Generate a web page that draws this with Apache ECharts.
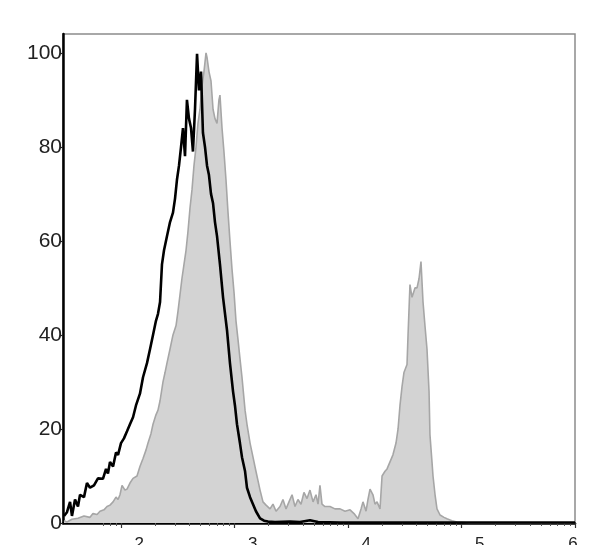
<!DOCTYPE html>
<html>
<head>
<meta charset="utf-8">
<script src="https://cdn.jsdelivr.net/npm/echarts@6/dist/echarts.min.js"></script>
<style>
html,body{margin:0;padding:0;background:#fff;}
#chart{width:608px;height:545px;}
</style>
</head>
<body>
<div id="chart"></div>
<script>
// x values are log10 of fluorescence intensity (decades)
const isoX = [1.498,1.524,1.551,1.568,1.595,1.621,1.639,1.674,1.700,1.727,1.762,1.797,1.841,1.868,1.885,1.903,1.930,1.956,1.974,2.000,2.026,2.053,2.079,2.106,2.132,2.167,2.194,2.229,2.256,2.282,2.308,2.326,2.344,2.361,2.379,2.405,2.432,2.458,2.476,2.493,2.511,2.529,2.546,2.564,2.581,2.599,2.617,2.634,2.652,2.670,2.687,2.705,2.722,2.740,2.758,2.775,2.793,2.811,2.828,2.846,2.872,2.899,2.934,2.960,2.987,3.004,3.022,3.048,3.066,3.093,3.110,3.137,3.163,3.189,3.225,3.260,3.295,3.357,3.489,3.577,3.665,3.736,3.930,4.458,6.000];
const isoY = [1.5,2.3,4.5,1.5,5,3.5,6,5.5,8.5,7.5,8,9.5,9.4,11.5,10.5,13,12,15,14.5,17,18,19.5,21,22.5,25,27.5,31,34,37,40,43,44.5,47,55,58,61,64,66,69,73,76,80,84,78,90,86,84,79,88,99.8,92,96,83,80,76,74,70,68,64,61,55,48,41,34,28,25,21,17,14,11,7.5,5.5,4,2.5,1,0.5,0.3,0.2,0.3,0.2,0.6,0.2,0.1,0.1,0.1];

const stainX = [1.498,1.524,1.568,1.621,1.674,1.727,1.753,1.789,1.815,1.850,1.877,1.903,1.930,1.956,1.974,1.991,2.009,2.035,2.053,2.079,2.106,2.141,2.167,2.194,2.220,2.238,2.264,2.282,2.308,2.326,2.344,2.370,2.388,2.405,2.432,2.458,2.485,2.502,2.520,2.537,2.555,2.573,2.590,2.608,2.626,2.643,2.661,2.678,2.696,2.714,2.731,2.749,2.758,2.775,2.793,2.811,2.828,2.846,2.863,2.872,2.890,2.907,2.925,2.943,2.960,2.978,2.996,3.013,3.031,3.048,3.066,3.093,3.110,3.137,3.163,3.189,3.207,3.225,3.251,3.278,3.313,3.339,3.366,3.401,3.427,3.454,3.480,3.507,3.533,3.559,3.586,3.612,3.639,3.665,3.692,3.718,3.736,3.753,3.771,3.797,3.841,3.885,3.930,3.974,4.018,4.053,4.088,4.115,4.132,4.159,4.176,4.194,4.220,4.238,4.256,4.282,4.300,4.326,4.344,4.370,4.396,4.423,4.441,4.458,4.476,4.493,4.520,4.529,4.546,4.564,4.581,4.590,4.608,4.626,4.643,4.661,4.678,4.696,4.714,4.722,4.740,4.749,4.767,4.784,4.811,4.846,4.872,4.916,4.960,5.075,6.000];
const stainY = [0.5,0.2,0.8,1.0,1.5,1.2,2.0,1.8,2.5,2.8,3.5,3.8,4.5,5.5,5,6,8,7,7.2,8.5,9.5,10,12,13.7,15.5,17,19,21,23,24,26,30,32,34,37,40,42,45,48.6,52,55,58,62,67,71,76,80,85,88,93,96,100,99,96,94,88,86,85,90,91,84,79,73,66,60,54,49,43,39,35,31,24,21,17,14,11,9,7,4.5,3.8,3,4,2.5,3.5,5,3,4.5,6,3.5,5,4,6.5,5.2,7,4.5,6,4,8,4,3.5,3.5,3,3,2.5,2.8,2,0.9,3,4.5,2.5,5,7.2,6,4,4.5,3,10,11,11.5,13,14.5,17,20,25,29,32,33.7,40,50.7,48,48,50,50,52,55.6,47,42,37,28,18.8,13,10,6,3,1.7,1.2,0.9,0.5,0.2,0,0];

const yTicks = [0,20,40,60,80,100];
const decadeTicks = [2,3,4,5,6];
const minorTicks = [Math.log10(70),Math.log10(80),Math.log10(90)];
[2,3,4,5].forEach(d => { for (let k = 2; k <= 9; k++) minorTicks.push(d + Math.log10(k)); });

const zip = (xs, ys) => xs.map((x, i) => [x, ys[i]]);

const chart = echarts.init(document.getElementById('chart'), null, {renderer: 'canvas'});
const X_MIN = 1.489, X_MAX = 6;
chart.setOption({
  animation: false,
  backgroundColor: '#fff',
  grid: {left: 63, right: 33, top: 34, bottom: 22, containLabel: false, outerBoundsMode: 'none',
         show: true, borderColor: '#8c8c8c', borderWidth: 1.5, backgroundColor: 'transparent'},
  xAxis: [
    {
      type: 'value', min: X_MIN, max: X_MAX, position: 'bottom',
      splitLine: {show: false},
      axisLine: {show: true, onZero: false, lineStyle: {color: '#000', width: 2.5}},
      axisTick: {show: true, length: 5, customValues: decadeTicks, lineStyle: {color: '#333', width: 1.2}},
      axisLabel: {
        show: true, margin: 13, verticalAlign: 'top', customValues: decadeTicks,
        formatter: v => v === 6 ? '{a|}{c|6}' : '{a|10}{b|' + v + '}',
        rich: {
          a: {fontFamily: 'Liberation Sans, Arial', fontSize: 20, lineHeight: 40, color: '#222'},
          b: {fontFamily: 'Liberation Sans, Arial', fontSize: 17, lineHeight: 17, color: '#222', verticalAlign: 'top', padding: [0,0,0,14]},
          c: {fontFamily: 'Liberation Sans, Arial', fontSize: 17, lineHeight: 17, color: '#222', verticalAlign: 'top', padding: [0,4,0,0]}
        }
      }
    },
    {
      type: 'value', min: X_MIN, max: X_MAX, position: 'bottom',
      splitLine: {show: false},
      axisLine: {show: false, onZero: false},
      axisTick: {show: true, length: 3, customValues: minorTicks, lineStyle: {color: '#555', width: 1}},
      axisLabel: {show: false}
    }
  ],
  yAxis: {
    type: 'value', min: 0, max: 104,
    splitLine: {show: false},
    axisLine: {show: true, lineStyle: {color: '#000', width: 2.5}},
    axisTick: {show: true, length: 3, customValues: yTicks, lineStyle: {color: '#222', width: 1.2}},
    axisLabel: {show: true, customValues: yTicks, margin: 1, fontFamily: 'Liberation Sans, Arial', fontSize: 21, color: '#222'}
  },
  series: [
    {
      type: 'line', name: 'stained', xAxisIndex: 0, data: zip(stainX, stainY),
      showSymbol: false, symbol: 'none',
      lineStyle: {color: '#a6a6a6', width: 1.6},
      areaStyle: {color: '#d3d3d3', opacity: 1},
      z: 2
    },
    {
      type: 'line', name: 'isotype', xAxisIndex: 0, data: zip(isoX, isoY),
      showSymbol: false, symbol: 'none',
      lineStyle: {color: '#000', width: 2.6},
      z: 3
    }
  ]
});
</script>
</body>
</html>
